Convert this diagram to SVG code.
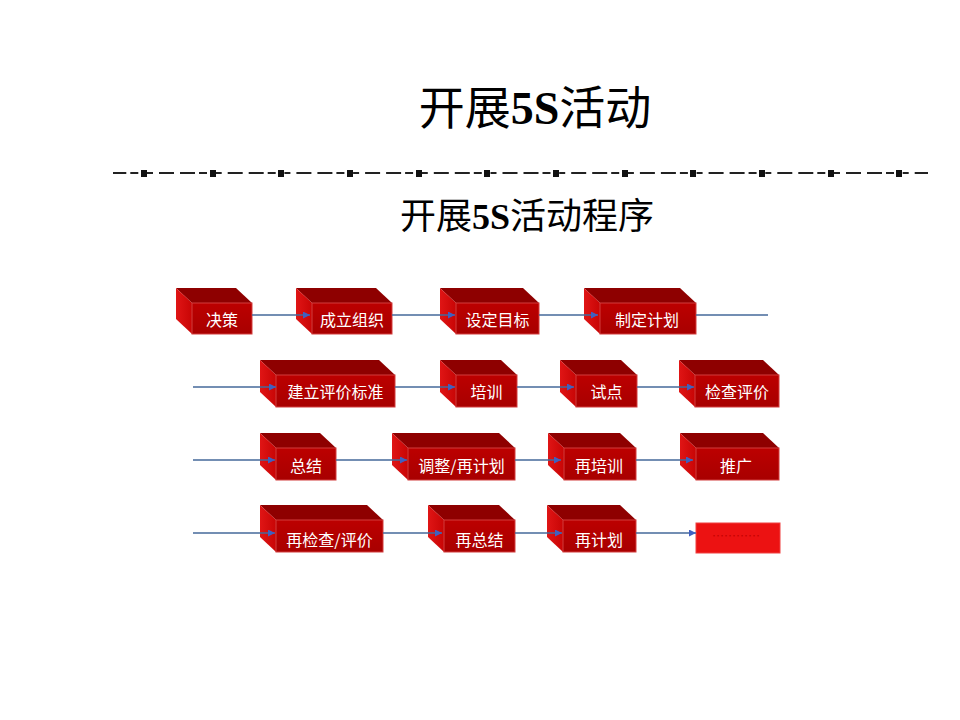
<svg xmlns="http://www.w3.org/2000/svg" width="960" height="720" viewBox="0 0 960 720">
<style>
.title{font-family:"Noto Sans CJK SC","Liberation Serif",serif;fill:#000}
.num{font-family:"Liberation Serif",serif;font-weight:bold}
.top{fill:#8E0000}
.left{fill:url(#gl)}
.front{fill:url(#gf);stroke:#D23C3C;stroke-width:1}
.lbl{font-family:"Noto Sans CJK SC","Liberation Sans",sans-serif;font-size:16px;fill:#fff;text-anchor:middle}
.conn{stroke:#45699A;stroke-width:1.3;fill:none}
</style>
<defs>
<linearGradient id="gf" x1="0" y1="0" x2="0" y2="1">
<stop offset="0" stop-color="#BC0000"/>
<stop offset="1" stop-color="#A80000"/>
</linearGradient>
<linearGradient id="gl" x1="0" y1="0" x2="1" y2="0">
<stop offset="0" stop-color="#E01515"/>
<stop offset="1" stop-color="#C80505"/>
</linearGradient>
<marker id="ah" viewBox="0 0 10 10" refX="10" refY="5" markerWidth="8" markerHeight="7" markerUnits="userSpaceOnUse" orient="auto">
<path d="M0,0 L10,5 L0,10 Z" fill="#4060C0"/>
</marker>
</defs>
<rect width="960" height="720" fill="#fff"/>

<g id="title">
<text class="title" x="535" y="124" font-size="46" text-anchor="middle">开展<tspan class="num">5S</tspan>活动</text>
</g>
<g id="divider">
<line x1="113" y1="173" x2="928" y2="173" stroke="#222" stroke-width="2" stroke-dasharray="6 6 15 6 15 4 8 8.7" stroke-dashoffset="34.7"/>
<g fill="#111">
<rect x="141" y="170" width="6" height="7"/>
<rect x="210" y="170" width="6" height="7"/>
<rect x="278" y="170" width="6" height="7"/>
<rect x="347" y="170" width="6" height="7"/>
<rect x="416" y="170" width="6" height="7"/>
<rect x="484" y="170" width="6" height="7"/>
<rect x="553" y="170" width="6" height="7"/>
<rect x="622" y="170" width="6" height="7"/>
<rect x="690" y="170" width="6" height="7"/>
<rect x="759" y="170" width="6" height="7"/>
<rect x="828" y="170" width="6" height="7"/>
<rect x="896" y="170" width="6" height="7"/>
</g>
</g>
<g id="subtitle">
<text class="title" x="527" y="229" font-size="36" text-anchor="middle">开展<tspan class="num">5S</tspan>活动程序</text>
</g>

<!-- Row 1 -->
<g id="n1">
<polygon class="top" points="176,288 236,288 252,303 192,303"/>
<polygon class="left" points="176,288 192,303 192,334 176,319"/>
<rect class="front" x="192" y="303" width="60" height="31"/>
<text class="lbl" x="222" y="326">决策</text>
</g>
<g id="n2">
<polygon class="top" points="296,288 376,288 392,303 312,303"/>
<polygon class="left" points="296,288 312,303 312,334 296,319"/>
<rect class="front" x="312" y="303" width="80" height="31"/>
<text class="lbl" x="352" y="326">成立组织</text>
</g>
<g id="n3">
<polygon class="top" points="440,288 523,288 539,303 456,303"/>
<polygon class="left" points="440,288 456,303 456,334 440,319"/>
<rect class="front" x="456" y="303" width="83" height="31"/>
<text class="lbl" x="497.5" y="326">设定目标</text>
</g>
<g id="n4">
<polygon class="top" points="584,288 680,288 696,303 600,303"/>
<polygon class="left" points="584,288 600,303 600,334 584,319"/>
<rect class="front" x="600" y="303" width="96" height="31"/>
<text class="lbl" x="647" y="326">制定计划</text>
</g>

<!-- Row 2 -->
<g id="n5">
<polygon class="top" points="260,360 379,360 395,375 276,375"/>
<polygon class="left" points="260,360 276,375 276,407 260,392"/>
<rect class="front" x="276" y="375" width="119" height="32"/>
<text class="lbl" x="335.5" y="398">建立评价标准</text>
</g>
<g id="n6">
<polygon class="top" points="440,360 501,360 517,375 456,375"/>
<polygon class="left" points="440,360 456,375 456,407 440,392"/>
<rect class="front" x="456" y="375" width="61" height="32"/>
<text class="lbl" x="486.5" y="398">培训</text>
</g>
<g id="n7">
<polygon class="top" points="560,360 621,360 637,375 576,375"/>
<polygon class="left" points="560,360 576,375 576,407 560,392"/>
<rect class="front" x="576" y="375" width="61" height="32"/>
<text class="lbl" x="606.5" y="398">试点</text>
</g>
<g id="n8">
<polygon class="top" points="679,360 763,360 779,375 695,375"/>
<polygon class="left" points="679,360 695,375 695,407 679,392"/>
<rect class="front" x="695" y="375" width="84" height="32"/>
<text class="lbl" x="737" y="398">检查评价</text>
</g>

<!-- Row 3 -->
<g id="n9">
<polygon class="top" points="260,433 320,433 336,448 276,448"/>
<polygon class="left" points="260,433 276,448 276,480 260,465"/>
<rect class="front" x="276" y="448" width="60" height="32"/>
<text class="lbl" x="306" y="472">总结</text>
</g>
<g id="n10">
<polygon class="top" points="392,433 499,433 515,448 408,448"/>
<polygon class="left" points="392,433 408,448 408,480 392,465"/>
<rect class="front" x="408" y="448" width="107" height="32"/>
<text class="lbl" x="461.5" y="472">调整/再计划</text>
</g>
<g id="n11">
<polygon class="top" points="548,433 620,433 636,448 564,448"/>
<polygon class="left" points="548,433 564,448 564,480 548,465"/>
<rect class="front" x="564" y="448" width="72" height="32"/>
<text class="lbl" x="599" y="472">再培训</text>
</g>
<g id="n12">
<polygon class="top" points="680,433 763,433 779,448 696,448"/>
<polygon class="left" points="680,433 696,448 696,480 680,465"/>
<rect class="front" x="696" y="448" width="83" height="32"/>
<text class="lbl" x="736" y="472">推广</text>
</g>

<!-- Row 4 -->
<g id="n13">
<polygon class="top" points="260,505 367,505 383,520 276,520"/>
<polygon class="left" points="260,505 276,520 276,552 260,537"/>
<rect class="front" x="276" y="520" width="107" height="32"/>
<text class="lbl" x="329.5" y="546">再检查/评价</text>
</g>
<g id="n14">
<polygon class="top" points="428,505 499,505 515,520 444,520"/>
<polygon class="left" points="428,505 444,520 444,552 428,537"/>
<rect class="front" x="444" y="520" width="71" height="32"/>
<text class="lbl" x="479.5" y="546">再总结</text>
</g>
<g id="n15">
<polygon class="top" points="547,505 620,505 636,520 563,520"/>
<polygon class="left" points="547,505 563,520 563,552 547,537"/>
<rect class="front" x="563" y="520" width="73" height="32"/>
<text class="lbl" x="599" y="546">再计划</text>
</g>
<g id="n16">
<rect x="696" y="523" width="84" height="30" fill="#EC1212" stroke="#F04040" stroke-width="1"/>
<text x="736" y="541" font-family="Noto Sans CJK SC, sans-serif" font-size="12" fill="#C40000" text-anchor="middle">…………</text>
</g>

<g id="connectors">
<line class="conn" x1="252" y1="315" x2="310" y2="315" marker-end="url(#ah)"/>
<line class="conn" x1="392" y1="315" x2="455" y2="315" marker-end="url(#ah)"/>
<line class="conn" x1="539" y1="315" x2="598" y2="315" marker-end="url(#ah)"/>
<line class="conn" x1="696" y1="315" x2="768" y2="315"/>

<line class="conn" x1="193" y1="387" x2="276" y2="387" marker-end="url(#ah)"/>
<line class="conn" x1="395" y1="387" x2="455" y2="387" marker-end="url(#ah)"/>
<line class="conn" x1="517" y1="387" x2="574" y2="387" marker-end="url(#ah)"/>
<line class="conn" x1="637" y1="387" x2="694" y2="387" marker-end="url(#ah)"/>

<line class="conn" x1="193" y1="460" x2="275" y2="460" marker-end="url(#ah)"/>
<line class="conn" x1="336" y1="460" x2="407" y2="460" marker-end="url(#ah)"/>
<line class="conn" x1="515" y1="460" x2="561" y2="460" marker-end="url(#ah)"/>
<line class="conn" x1="636" y1="460" x2="693" y2="460" marker-end="url(#ah)"/>

<line class="conn" x1="193" y1="533" x2="275" y2="533" marker-end="url(#ah)"/>
<line class="conn" x1="383" y1="533" x2="442" y2="533" marker-end="url(#ah)"/>
<line class="conn" x1="515" y1="533" x2="562" y2="533" marker-end="url(#ah)"/>
<line class="conn" x1="636" y1="533" x2="696" y2="533" marker-end="url(#ah)"/>
</g>
</svg>
